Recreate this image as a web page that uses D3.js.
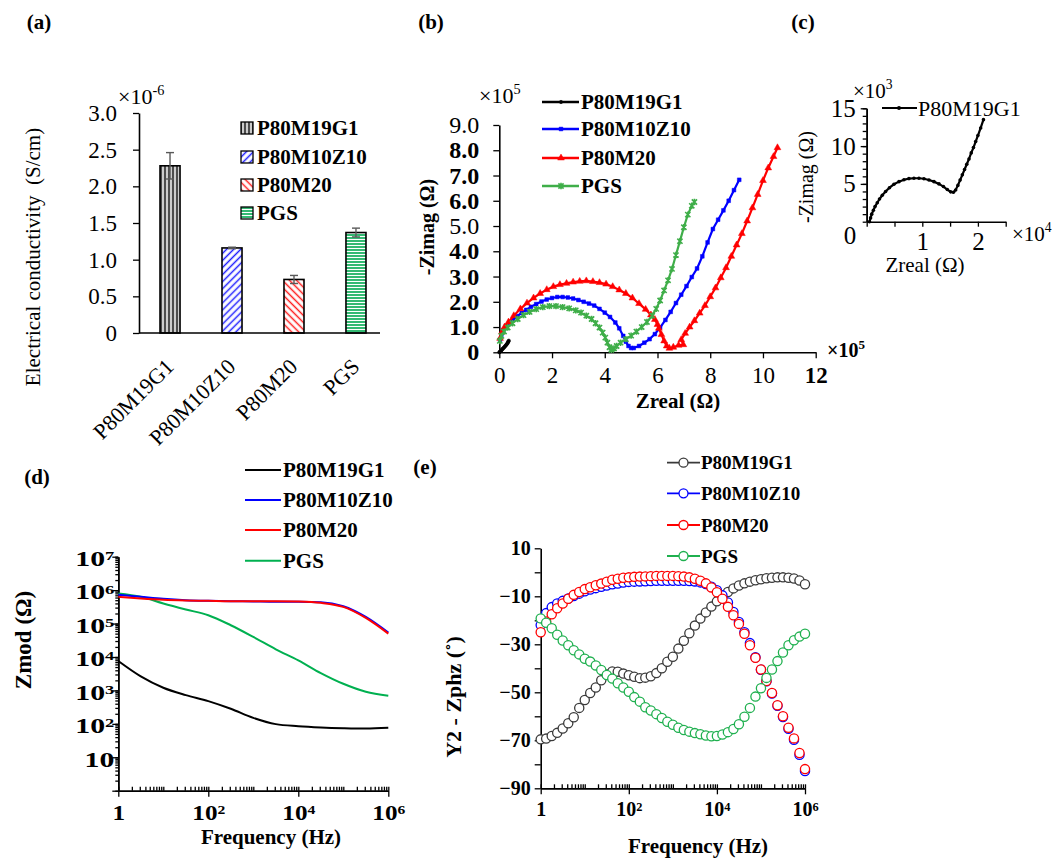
<!DOCTYPE html>
<html>
<head>
<meta charset="utf-8">
<script src="https://cdn.jsdelivr.net/npm/d3@7"></script>
<style>
  body { margin: 0; background: #fff; }
  svg text { font-family: 'Liberation Serif', 'Times New Roman', serif; fill: #000; }
</style>
</head>
<body>
<svg id="fig" width="1060" height="859" viewBox="0 0 1060 859"></svg>
<script>
// ---------- data ----------
// (a) conductivity, x1e-6 S/cm
const aCats = ["P80M19G1", "P80M10Z10", "P80M20", "PGS"];
const aVals = [2.28, 1.16, 0.73, 1.37];
const aErrs = [0.18, 0.01, 0.055, 0.06];
const aYTicks = [0, 0.5, 1, 1.5, 2, 2.5, 3];

// (b) Nyquist, both axes x1e5 ohm
const bBlack = [[0.0,0.0],[0.04,0.04],[0.08,0.08],[0.12,0.13],[0.17,0.18],[0.22,0.24],[0.27,0.30],[0.31,0.36],[0.34,0.42],[0.36,0.46]];
const bBlue = [[0.03,0.50],[0.08,0.70],[0.15,0.88],[0.25,1.03],[0.38,1.17],[0.52,1.30],[0.68,1.43],[0.85,1.56],[1.02,1.68],[1.20,1.80],[1.40,1.91],[1.60,2.01],[1.80,2.09],[2.00,2.15],[2.20,2.19],[2.40,2.19],[2.60,2.17],[2.80,2.13],[3.00,2.07],[3.20,2.00],[3.40,1.93],[3.60,1.85],[3.80,1.72],[4.00,1.57],[4.20,1.40],[4.40,1.18],[4.55,0.95],[4.70,0.65],[4.80,0.42],[4.90,0.25],[5.00,0.17],[5.10,0.17],[5.30,0.25],[5.50,0.38],[5.70,0.52],[5.90,0.72],[6.10,0.98],[6.30,1.28],[6.50,1.60],[6.70,1.95],[6.90,2.28],[7.10,2.62],[7.30,2.98],[7.50,3.32],[7.70,3.80],[7.90,4.35],[8.10,4.88],[8.30,5.25],[8.50,5.62],[8.70,6.00],[8.90,6.42],[9.10,6.83]];
const bRed = [[0.03,0.55],[0.10,0.80],[0.20,1.00],[0.35,1.20],[0.55,1.45],[0.80,1.72],[1.05,1.95],[1.30,2.15],[1.55,2.33],[1.80,2.48],[2.05,2.60],[2.30,2.68],[2.55,2.73],[2.80,2.78],[3.05,2.81],[3.30,2.83],[3.55,2.80],[3.80,2.76],[4.05,2.70],[4.30,2.60],[4.55,2.47],[4.80,2.33],[5.05,2.15],[5.30,1.93],[5.55,1.70],[5.75,1.48],[5.90,1.30],[6.00,1.10],[6.05,0.95],[6.15,0.70],[6.25,0.45],[6.35,0.25],[6.45,0.16],[6.60,0.20],[6.80,0.28],[6.98,0.30],[6.90,0.50],[7.05,0.75],[7.22,1.00],[7.40,1.25],[7.60,1.55],[7.80,1.85],[8.00,2.20],[8.20,2.55],[8.40,2.95],[8.60,3.35],[8.80,3.80],[9.00,4.25],[9.20,4.70],[9.40,5.20],[9.60,5.72],[9.80,6.25],[10.00,6.80],[10.20,7.30],[10.40,7.75],[10.55,8.10]];
const bGreen = [[0.02,0.45],[0.08,0.65],[0.18,0.82],[0.32,0.98],[0.50,1.15],[0.70,1.32],[0.92,1.47],[1.15,1.60],[1.40,1.71],[1.65,1.79],[1.90,1.83],[2.15,1.83],[2.40,1.79],[2.65,1.74],[2.90,1.66],[3.10,1.57],[3.30,1.45],[3.50,1.32],[3.65,1.15],[3.80,0.98],[3.92,0.78],[4.02,0.58],[4.10,0.38],[4.18,0.20],[4.25,0.10],[4.35,0.15],[4.45,0.25],[4.60,0.38],[4.80,0.52],[5.00,0.66],[5.20,0.82],[5.40,1.00],[5.60,1.20],[5.80,1.45],[5.95,1.72],[6.10,2.05],[6.25,2.45],[6.40,2.85],[6.55,3.30],[6.70,3.85],[6.85,4.40],[7.00,4.95],[7.15,5.45],[7.30,5.80],[7.40,5.95]];

// (c) Nyquist of P80M19G1, x in 1e4 ohm, y in 1e3 ohm
const cData = [[0.05,0.0],[0.07,0.5],[0.09,1.0],[0.12,1.5],[0.15,2.0],[0.19,2.5],[0.23,3.0],[0.28,3.5],[0.34,4.0],[0.41,4.5],[0.49,4.95],[0.58,5.3],[0.67,5.55],[0.76,5.7],[0.85,5.75],[0.94,5.75],[1.03,5.68],[1.12,5.52],[1.21,5.3],[1.30,5.0],[1.38,4.65],[1.45,4.25],[1.51,3.95],[1.56,3.9],[1.60,4.2],[1.64,4.8],[1.68,5.5],[1.72,6.2],[1.76,6.9],[1.80,7.6],[1.84,8.3],[1.88,9.1],[1.92,9.8],[1.96,10.6],[2.00,11.4],[2.05,12.4],[2.10,13.5]];

// (d) Bode modulus
const dFreq = [1, 3.16, 10, 31.6, 100, 316, 1000, 3162, 1e4, 31623, 1e5, 316228, 1e6];
const dBlack = [7590, 2630, 1200, 724, 479, 282, 151, 98, 85, 78, 74, 72, 76];
const dBlue = [724000, 631000, 550000, 501000, 479000, 468000, 457000, 447000, 447000, 437000, 331000, 158000, 53700];
const dRed = [631000, 562000, 513000, 490000, 479000, 468000, 468000, 468000, 457000, 417000, 316000, 148000, 50100];
const dGreen = [794000, 631000, 398000, 263000, 178000, 89100, 39800, 17000, 7940, 3310, 1580, 912, 692];

// (e) Bode phase, degrees
const eFreq = [1,1.33,1.78,2.37,3.16,4.22,5.62,7.5,
  10,13.3,17.8,23.7,31.6,42.2,56.2,75,
  100,133,178,237,316,422,562,750,
  1000,1334,1778,2371,3162,4217,5623,7499,
  1e4,13335,17783,23714,31623,42170,56234,74989,
  1e5,133352,177828,237137,316228,421697,562341,749894,1e6];
const eBlack = [-69.6,-69.3,-68.2,-66.9,-65.1,-62.9,-60.4,-56.5,-53.2,-50.3,-48.0,-45.0,-42.6,-41.3,-41.4,-42.2,-42.9,-43.5,-44.1,-43.9,-43.3,-42.0,-40.0,-37.3,-35.2,-31.8,-28.5,-25.4,-22.2,-19.3,-16.7,-14.3,-12.1,-9.9,-8.2,-6.7,-5.5,-4.6,-3.9,-3.3,-2.9,-2.5,-2.3,-2.1,-2.1,-2.3,-2.6,-3.4,-5.0];
const eBlue = [-22.0,-17.0,-14.5,-13.0,-11.9,-10.9,-9.9,-8.9,-7.9,-7.2,-6.6,-6.0,-5.5,-5.0,-4.7,-4.3,-4.0,-3.9,-3.8,-3.7,-3.6,-3.5,-3.5,-3.5,-3.5,-3.5,-3.5,-3.6,-3.8,-4.2,-4.9,-6.0,-7.5,-9.6,-12.6,-16.5,-20.7,-25.0,-29.5,-35.4,-40.6,-45.4,-50.5,-55.6,-60.3,-65.2,-69.8,-76.0,-82.8];
const eRed = [-25.0,-20.5,-17.5,-15.0,-13.0,-11.0,-9.4,-8.2,-7.0,-6.2,-5.4,-4.7,-3.9,-3.1,-2.7,-2.3,-2.1,-1.9,-1.8,-1.7,-1.6,-1.5,-1.5,-1.5,-1.5,-1.6,-1.8,-2.1,-2.7,-3.5,-4.6,-6.3,-8.3,-11.0,-14.4,-17.9,-21.5,-25.6,-30.4,-35.6,-40.5,-45.3,-50.3,-55.4,-60.0,-64.8,-69.2,-75.3,-82.0];
const eGreen = [-19.2,-21.0,-23.3,-26.0,-28.4,-30.4,-32.5,-34.2,-36.0,-37.2,-38.8,-40.7,-42.8,-44.3,-46.2,-48.0,-49.8,-52.0,-53.9,-56.2,-57.6,-59.1,-60.7,-62.3,-63.5,-64.8,-65.7,-66.4,-67.0,-67.5,-68.0,-68.3,-68.2,-67.6,-66.6,-65.3,-63.3,-60.2,-56.5,-51.8,-48.3,-44.0,-40.5,-37.0,-33.4,-30.4,-28.3,-26.8,-25.6];

const seriesNames = ["P80M19G1", "P80M10Z10", "P80M20", "PGS"];

// ---------- helpers ----------
const FONT = "'Liberation Serif', 'Times New Roman', serif";
const svg = d3.select("#fig");
svg.append("rect").attr("width", 1060).attr("height", 859).attr("fill", "#fff");
const defs = svg.append("defs");

function styleAxis(g, size, weight) {
    g.attr("font-family", FONT).attr("font-size", size).attr("font-weight", weight);
    g.select(".domain").attr("stroke", "#000").attr("stroke-width", 1.6);
    g.selectAll(".tick line").attr("stroke", "#000").attr("stroke-width", 1.3);
    g.selectAll(".tick text").attr("fill", "#000");
}

function powText(sel, exp) {
    sel.text(null);
    sel.append("tspan").text("10");
    sel.append("tspan").attr("dy", "-0.45em").attr("font-size", "0.62em").text(exp);
}

function multiplier(x, y, exp, size, weight) {
    const t = svg.append("text").attr("x", x).attr("y", y)
        .style("font-size", size + "px").style("font-weight", weight);
    t.append("tspan").text("\u00d710");
    t.append("tspan").attr("dy", -size * 0.42).style("font-size", (size * 0.65) + "px").text(exp);
}

function vLabel(x, y, text, size, weight) {
    svg.append("text")
        .attr("transform", `translate(${x},${y}) rotate(-90)`)
        .attr("text-anchor", "middle").attr("dy", "0.35em")
        .style("font-size", size + "px").style("font-weight", weight)
        .style("white-space", "pre")
        .text(text);
}

function hLabel(x, y, text, size, weight) {
    svg.append("text").attr("x", x).attr("y", y)
        .attr("text-anchor", "middle").attr("dy", "0.35em")
        .style("font-size", size + "px").style("font-weight", weight)
        .text(text);
}

// panel letters
[["(a)", 39, 29], ["(b)", 431, 29], ["(c)", 803, 29], ["(d)", 37, 484], ["(e)", 425, 474]]
    .forEach(([t, x, y]) => svg.append("text").attr("x", x).attr("y", y)
        .attr("text-anchor", "middle").style("font-size", "21px").style("font-weight", "bold").text(t));

// ---------- (a) bar chart ----------
const patterns = [
    { id: "patVert", w: 4, h: 4, rot: 0, lines: [[1, "#000", 1.4], [3, "#8c8c8c", 0.9]] },
    { id: "patBlue", w: 5, h: 5, rot: 45, lines: [[1.5, "#1f1fff", 1.5]] },
    { id: "patRed", w: 5, h: 5, rot: -45, lines: [[1.5, "#ff2020", 1.5]] },
    { id: "patGreen", w: 3, h: 3, rot: 90, lines: [[1, "#00a84f", 1.6]] }
];
patterns.forEach(p => {
    const pat = defs.append("pattern").attr("id", p.id)
        .attr("patternUnits", "userSpaceOnUse").attr("width", p.w).attr("height", p.h)
        .attr("patternTransform", `rotate(${p.rot})`);
    pat.append("rect").attr("width", p.w).attr("height", p.h).attr("fill", "#fff");
    p.lines.forEach(([x, c, sw]) => pat.append("line")
        .attr("x1", x).attr("x2", x).attr("y1", 0).attr("y2", p.h)
        .attr("stroke", c).attr("stroke-width", sw));
});

const xA = d3.scaleBand().domain(aCats).range([139, 387]).paddingInner(0.677).paddingOuter(0.339);
const yA = d3.scaleLinear().domain([0, 3]).range([333, 113]);

const gA = svg.append("g");
gA.selectAll(".bar").data(aCats).enter().append("rect")
    .attr("x", d => xA(d)).attr("y", (d, i) => yA(aVals[i]))
    .attr("width", xA.bandwidth()).attr("height", (d, i) => yA(0) - yA(aVals[i]))
    .attr("fill", (d, i) => `url(#${patterns[i].id})`)
    .attr("stroke", "#000").attr("stroke-width", 1.6);

const errG = gA.selectAll(".err").data(aCats).enter().append("g")
    .attr("stroke", "#595959").attr("stroke-width", 1.4);
errG.append("line")
    .attr("x1", d => xA(d) + xA.bandwidth() / 2).attr("x2", d => xA(d) + xA.bandwidth() / 2)
    .attr("y1", (d, i) => yA(aVals[i] - aErrs[i])).attr("y2", (d, i) => yA(aVals[i] + aErrs[i]));
[-1, 1].forEach(s => errG.append("line")
    .attr("x1", d => xA(d) + xA.bandwidth() / 2 - 4).attr("x2", d => xA(d) + xA.bandwidth() / 2 + 4)
    .attr("y1", (d, i) => yA(aVals[i] + s * aErrs[i])).attr("y2", (d, i) => yA(aVals[i] + s * aErrs[i])));

const axA = svg.append("g").attr("transform", "translate(139,0)")
    .call(d3.axisLeft(yA).tickValues(aYTicks).tickSize(6).tickSizeOuter(0).tickPadding(16)
        .tickFormat(d => d === 0 ? "0" : d.toFixed(1)));
styleAxis(axA, 23, "normal");
svg.append("line").attr("x1", xA.range()[0]).attr("x2", 380).attr("y1", yA(0)).attr("y2", yA(0))
    .attr("stroke", "#000").attr("stroke-width", 1.6);

aCats.forEach(c => {
    svg.append("text")
        .attr("transform", `translate(${xA(c) + xA.bandwidth() / 2 - 6},${yA(0) + 24}) rotate(-45)`)
        .attr("text-anchor", "end").attr("dy", "0.7em")
        .style("font-size", "22px").text(c);
});
vLabel(33, 257, "Electrical conductivity  (S/cm)", 21, "normal");
multiplier(118, 104, "-6", 22, "normal");

const legA = svg.append("g");
aCats.forEach((c, i) => {
    const y = [128, 157, 185, 213][i];
    legA.append("rect").attr("x", 241).attr("y", y - 6).attr("width", 12).attr("height", 12)
        .attr("fill", `url(#${patterns[i].id})`).attr("stroke", "#000").attr("stroke-width", 1.3);
    legA.append("text").attr("x", 257).attr("y", y).attr("dy", "0.35em")
        .style("font-size", "21px").style("font-weight", "bold").text(c);
});

// ---------- (b) Nyquist ----------
const xB = d3.scaleLinear().domain([0, 12]).range([499.3, 815.7]);
const yB = d3.scaleLinear().domain([0, 9]).range([352.3, 125]);
const bColors = ["#000000", "#0000ff", "#ff0000", "#3fae49"];
const bSeries = [bBlack, bBlue, bRed, bGreen];

const axBy = svg.append("g").attr("transform", `translate(${xB(0)},0)`)
    .call(d3.axisLeft(yB).ticks(9).tickSize(6).tickSizeOuter(0).tickPadding(14)
        .tickFormat(d => d === 0 ? "0" : d.toFixed(1)));
styleAxis(axBy, 24, "bold");
axBy.selectAll(".tick text").attr("font-weight", d => (d === 9 || d === 5) ? "normal" : "bold");
const axBx = svg.append("g").attr("transform", `translate(0,${yB(0)})`)
    .call(d3.axisBottom(xB).tickValues([0, 2, 4, 6, 8, 10, 12]).tickSize(6).tickSizeOuter(0).tickPadding(8));
styleAxis(axBx, 23, "normal");
axBx.selectAll(".tick text").attr("font-weight", d => d === 12 ? "bold" : "normal");

const lineB = d3.line().x(d => xB(d[0])).y(d => yB(d[1]));
function markerPath(i) {
    if (i === 0) return d3.symbol(d3.symbolCircle, 9)();
    if (i === 1) return d3.symbol(d3.symbolSquare, 14)();
    if (i === 2) return d3.symbol(d3.symbolTriangle, 20)();
    return "M-2.6,-2.6L2.6,2.6M-2.6,2.6L2.6,-2.6M0,-3.2L0,3.2";
}
[1, 2, 3, 0].forEach(i => {
    const g = svg.append("g");
    g.append("path").attr("d", lineB(bSeries[i])).attr("fill", "none")
        .attr("stroke", bColors[i]).attr("stroke-width", i === 0 ? 3.4 : 2.2);
    g.selectAll("path.m").data(bSeries[i]).enter().append("path").attr("class", "m")
        .attr("transform", d => `translate(${xB(d[0])},${yB(d[1])})`)
        .attr("d", markerPath(i))
        .attr("fill", bColors[i]).attr("stroke", bColors[i]).attr("stroke-width", i === 3 ? 1.6 : 0.5);
});
multiplier(479, 103, "5", 22, "normal");
multiplier(827, 357, "5", 20, "bold");
vLabel(427, 227, "-Zimag (\u03a9)", 20, "bold");
hLabel(678, 401, "Zreal (\u03a9)", 21, "bold");

seriesNames.forEach((s, i) => {
    const y = [102, 129, 158, 186][i];
    svg.append("line").attr("x1", 542).attr("x2", 579).attr("y1", y).attr("y2", y)
        .attr("stroke", bColors[i]).attr("stroke-width", 2.4);
    svg.append("path").attr("transform", `translate(561,${y})`).attr("d", markerPath(i))
        .attr("fill", bColors[i]).attr("stroke", bColors[i]).attr("stroke-width", i === 3 ? 1.6 : 0.5);
    svg.append("text").attr("x", 581).attr("y", y).attr("dy", "0.35em")
        .style("font-size", "21px").style("font-weight", "bold").text(s);
});

// ---------- (c) inset Nyquist ----------
const xC = d3.scaleLinear().domain([0, 2.5]).range([866.7, 1005.7]);
const yC = d3.scaleLinear().domain([0, 15]).range([221.7, 108.3]);
const axCyMinor = svg.append("g").attr("transform", `translate(${xC(0)},0)`)
    .call(d3.axisLeft(yC).ticks(15).tickSize(4).tickSizeOuter(0).tickFormat(""));
styleAxis(axCyMinor, 24, "normal");
const axCy = svg.append("g").attr("transform", `translate(${xC(0)},0)`)
    .call(d3.axisLeft(yC).tickValues([5, 10, 15]).tickSize(6).tickSizeOuter(0).tickPadding(5));
styleAxis(axCy, 25, "normal");
const axCx = svg.append("g").attr("transform", `translate(0,${yC(0)})`)
    .call(d3.axisBottom(xC).tickValues([0, 0.5, 1, 1.5, 2, 2.5]).tickSize(5).tickSizeOuter(0).tickPadding(6)
        .tickFormat(d => Number.isInteger(d) && d > 0 ? d : ""));
styleAxis(axCx, 25, "normal");
svg.append("text").attr("x", 850).attr("y", 244).attr("text-anchor", "middle")
    .style("font-size", "25px").text("0");
svg.append("path").attr("d", d3.line().x(d => xC(d[0])).y(d => yC(d[1]))(cData))
    .attr("fill", "none").attr("stroke", "#000").attr("stroke-width", 2.2);
svg.selectAll("circle.c").data(cData).enter().append("circle").attr("class", "c")
    .attr("cx", d => xC(d[0])).attr("cy", d => yC(d[1])).attr("r", 1.8).attr("fill", "#000");
multiplier(853, 98, "3", 21, "normal");
multiplier(1012, 241, "4", 21, "normal");
vLabel(806, 177, "-Zimag (\u03a9)", 20, "normal");
hLabel(925, 265, "Zreal (\u03a9)", 21, "normal");
svg.append("line").attr("x1", 882).attr("x2", 917).attr("y1", 108).attr("y2", 108)
    .attr("stroke", "#000").attr("stroke-width", 2);
svg.append("circle").attr("cx", 899).attr("cy", 108).attr("r", 2).attr("fill", "#000");
svg.append("text").attr("x", 918).attr("y", 108).attr("dy", "0.35em")
    .style("font-size", "22px").text(seriesNames[0]);

// ---------- (d) Bode modulus ----------
const xD = d3.scaleLog().domain([1, 1e6]).range([118.3, 388.3]);
const yD = d3.scaleLog().domain([1, 1e7]).range([790.7, 556.7]);
const dColors = ["#000000", "#0000ff", "#ff0000", "#00b050"];
const dSeries = [dBlack, dBlue, dRed, dGreen];

const axDyMinor = svg.append("g").attr("transform", `translate(${xD(1)},0)`)
    .call(d3.axisLeft(yD).tickValues(yD.ticks()).tickSize(3).tickSizeOuter(0).tickFormat(""));
styleAxis(axDyMinor, 22, "bold");
const axDy = svg.append("g").attr("transform", `translate(${xD(1)},0)`)
    .call(d3.axisLeft(yD).tickValues([1, 10, 1e2, 1e3, 1e4, 1e5, 1e6, 1e7]).tickSize(6).tickSizeOuter(0));
styleAxis(axDy, 21, "bold");
// the labels of this axis are drawn wide in the reference
axDy.selectAll(".tick text").each(function (d) {
    const e = Math.round(Math.log10(d));
    const t = d3.select(this).attr("x", -4 / 1.42).attr("dy", "0.42em")
        .attr("transform", "scale(1.42,1)");
    if (e === 0) t.text("");
    else if (e === 1) t.text("10");
    else powText(t, e);
});
const axDxMinor = svg.append("g").attr("transform", `translate(0,${yD(1)})`)
    .call(d3.axisBottom(xD).tickValues(xD.ticks()).tickSize(-4).tickSizeOuter(0).tickFormat(""));
styleAxis(axDxMinor, 22, "bold");
const axDx = svg.append("g").attr("transform", `translate(0,${yD(1)})`)
    .call(d3.axisBottom(xD).tickValues([1, 1e2, 1e4, 1e6]).tickSize(6).tickSizeOuter(0).tickPadding(8));
styleAxis(axDx, 21, "bold");
axDx.selectAll(".tick text").each(function (d) {
    const e = Math.round(Math.log10(d));
    const t = d3.select(this).attr("transform", "scale(1.2,1)");
    if (e === 0) t.text("1"); else powText(t, e);
});
const lineD = d3.line().x((d, i) => xD(dFreq[i])).y(d => yD(d)).curve(d3.curveMonotoneX);
[0, 3, 1, 2].forEach(i => svg.append("path").attr("d", lineD(dSeries[i]))
    .attr("fill", "none").attr("stroke", dColors[i]).attr("stroke-width", 2));
vLabel(23, 640, "Zmod (\u03a9)", 23, "bold");
hLabel(271, 837, "Frequency (Hz)", 21, "bold");
seriesNames.forEach((s, i) => {
    const y = [470, 500, 530, 560.7][i];
    svg.append("line").attr("x1", 245).attr("x2", 281).attr("y1", y).attr("y2", y)
        .attr("stroke", dColors[i]).attr("stroke-width", 2);
    svg.append("text").attr("x", 283).attr("y", y).attr("dy", "0.35em")
        .style("font-size", "21px").style("font-weight", "bold").text(s);
});

// ---------- (e) Bode phase ----------
const xE = d3.scaleLog().domain([1, 1e6]).range([540.7, 805]);
const yE = d3.scaleLinear().domain([-90, 10]).range([788.3, 548.3]);
const eColors = ["#3a3a3a", "#0000ff", "#ff0000", "#1fb04f"];
const eSeries = [eBlack, eBlue, eRed, eGreen];

const axEy = svg.append("g").attr("transform", `translate(${xE(1)},0)`)
    .call(d3.axisLeft(yE).tickValues(d3.range(-90, 11, 10)).tickSize(6).tickSizeOuter(0).tickPadding(4)
        .tickFormat(d => (d + 90) % 20 === 0 ? String(d).replace("-", "\u2212") : ""));
styleAxis(axEy, 20, "bold");
const axExMinor = svg.append("g").attr("transform", `translate(0,${yE(-90)})`)
    .call(d3.axisBottom(xE).tickValues(xE.ticks()).tickSize(-4).tickSizeOuter(0).tickFormat(""));
styleAxis(axExMinor, 22, "bold");
const axEx = svg.append("g").attr("transform", `translate(0,${yE(-90)})`)
    .call(d3.axisBottom(xE).tickValues([1, 1e2, 1e4, 1e6]).tickSize(6).tickSizeOuter(0).tickPadding(8));
styleAxis(axEx, 20, "bold");
axEx.selectAll(".tick text").each(function (d) {
    const e = Math.round(Math.log10(d));
    if (e === 0) d3.select(this).text("1"); else powText(d3.select(this), e);
});
[0, 1, 2, 3].forEach(i => {
    const g = svg.append("g");
    g.selectAll("circle").data(eSeries[i]).enter().append("circle")
        .attr("cx", (d, k) => xE(eFreq[k])).attr("cy", d => yE(d)).attr("r", 4.6)
        .attr("fill", "#fff").attr("stroke", eColors[i]).attr("stroke-width", 1.3);
});
vLabel(453, 697, "Y2 - Zphz (\u02da)", 22, "bold");
hLabel(698, 846, "Frequency (Hz)", 21, "bold");
seriesNames.forEach((s, i) => {
    const y = [462.7, 493.3, 525, 556][i];
    svg.append("line").attr("x1", 667).attr("x2", 700).attr("y1", y).attr("y2", y)
        .attr("stroke", eColors[i]).attr("stroke-width", 1.8);
    svg.append("circle").attr("cx", 683.5).attr("cy", y).attr("r", 4.5)
        .attr("fill", "#fff").attr("stroke", eColors[i]).attr("stroke-width", 1.3);
    svg.append("text").attr("x", 701).attr("y", y).attr("dy", "0.35em")
        .style("font-size", "19px").style("font-weight", "bold").text(s);
});
</script>
</body>
</html>
